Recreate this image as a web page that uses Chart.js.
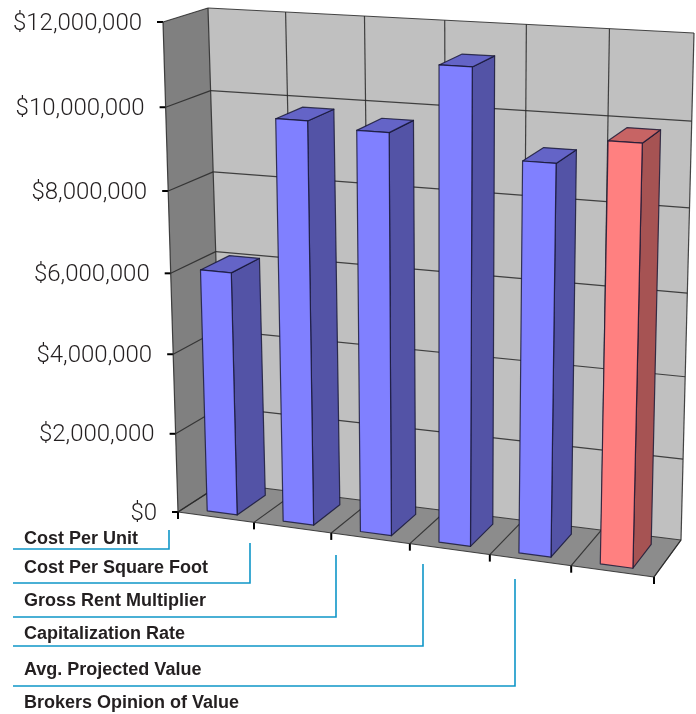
<!DOCTYPE html>
<html><head><meta charset="utf-8">
<style>html,body{margin:0;padding:0;background:#fff}canvas{display:block}</style>
<script src="https://cdn.jsdelivr.net/npm/chart.js@4"></script>
</head><body><canvas id="c" width="696" height="714"></canvas>
<script>
// ---- data ----
const categories = ['Cost Per Unit','Cost Per Square Foot','Gross Rent Multiplier','Capitalization Rate','Avg. Projected Value','Brokers Opinion of Value'];
const values = [6060000, 9840000, 9700000, 11320000, 9270000, 9860000];
const barColors = ['#8080FF','#8080FF','#8080FF','#8080FF','#8080FF','#FF8080'];
const yTickValues = [0, 2000000, 4000000, 6000000, 8000000, 10000000, 12000000];

// ---- frame geometry of the 3-D box ----
const FRAME = {
  fb:[[178,512],[654,577]], bb:[[223,483],[681,540]],
  ft:[[163,22],[667,50]],   bt:[[208,8],[694,33]]
};
const K = 1.053, BAR_W0 = 0.145, BAR_W1 = 0.80;
const persp = t => t/(t+(1-t)*K);
const unpersp = v => v*K/(1-v+v*K);
const lerp = (a,b,t)=>[a[0]+(b[0]-a[0])*t, a[1]+(b[1]-a[1])*t];
function corner3(u,v,w){
  const f = lerp(lerp(FRAME.fb[0],FRAME.fb[1],u), lerp(FRAME.ft[0],FRAME.ft[1],u), v);
  const b = lerp(lerp(FRAME.bb[0],FRAME.bb[1],u), lerp(FRAME.bt[0],FRAME.bt[1],u), v);
  return lerp(f,b,w);
}
// project a point of the chart's front plane (scale pixels) with a depth 0..1
function project(chart,px,py,w){
  const a = chart.chartArea;
  return corner3((px-a.left)/(a.right-a.left),(a.bottom-py)/(a.bottom-a.top),w);
}
function poly(ctx,pts,fill,stroke,lw){
  ctx.beginPath();
  pts.forEach((p,i)=>i?ctx.lineTo(p[0],p[1]):ctx.moveTo(p[0],p[1]));
  ctx.closePath();
  if(fill){ctx.fillStyle=fill;ctx.fill();}
  if(stroke){ctx.strokeStyle=stroke;ctx.lineWidth=lw||1;ctx.stroke();}
}
function seg(ctx,a,b,stroke,lw){
  ctx.beginPath();ctx.moveTo(a[0],a[1]);ctx.lineTo(b[0],b[1]);
  ctx.strokeStyle=stroke;ctx.lineWidth=lw||1;ctx.stroke();
}
function shade(hex,f){
  const n=parseInt(hex.slice(1),16);
  const c=[(n>>16)&255,(n>>8)&255,n&255].map(x=>Math.round(x*f));
  return `rgb(${c[0]},${c[1]},${c[2]})`;
}

// ---- scales following the perspective of the box ----
class FrameLinear extends Chart.LinearScale{
  static id='frameLinear'; static defaults=Chart.LinearScale.defaults;
  getPixelForDecimal(d){return super.getPixelForDecimal(persp(d));}
  getDecimalForPixel(p){return unpersp(super.getDecimalForPixel(p));}
  _computeLabelItems(area){
    const items=super._computeLabelItems(area);
    items.forEach(it=>{
      const t=it.options.translation, ca=this.chart.chartArea;
      const edge=corner3(0,(ca.bottom-t[1])/(ca.bottom-ca.top),0);
      t[0]=edge[0]-21; t[1]+=1.5; it.options.textAlign='right';
    });
    return items;
  }
}
const LABEL_Y=[539,568.5,601.5,634,670.5,703];
class FrameCategory extends Chart.CategoryScale{
  static id='frameCategory'; static defaults=Chart.CategoryScale.defaults;
  getPixelForDecimal(d){return super.getPixelForDecimal(persp(d));}
  getDecimalForPixel(p){return unpersp(super.getDecimalForPixel(p));}
  _computeLabelItems(area){
    const items=super._computeLabelItems(area);
    items.forEach((it,i)=>{
      it.options.translation=[24,LABEL_Y[i]];
      it.options.textAlign='left'; it.options.textBaseline='middle'; it.options.rotation=0;
      it.textOffset=0;
    });
    return items;
  }
}
Chart.register(FrameLinear,FrameCategory);

// ---- bars are drawn as 3-D prisms from the element's own scale pixels ----
const OUTLINE='rgba(20,20,50,.8)';
Chart.BarElement.prototype.draw=function(ctx){
  const chart=Chart.getChart(ctx.canvas), xs=chart.scales.x;
  const p=this.getProps(['x','y','base','width']);
  const t=xs.getDecimalForPixel(p.x), half=p.width/xs.width/2;
  const xl=xs.getPixelForDecimal(t-half), xr=xs.getPixelForDecimal(t+half);
  const P=(x,y,w)=>project(chart,x,y,w);
  const c=this.options.backgroundColor;
  ctx.save(); ctx.lineJoin='round';
  poly(ctx,[P(xr,p.base,BAR_W0),P(xr,p.base,BAR_W1),P(xr,p.y,BAR_W1),P(xr,p.y,BAR_W0)],shade(c,.65),OUTLINE,1.2);
  poly(ctx,[P(xl,p.y,BAR_W0),P(xr,p.y,BAR_W0),P(xr,p.y,BAR_W1),P(xl,p.y,BAR_W1)],shade(c,.78),OUTLINE,1.2);
  poly(ctx,[P(xl,p.base,BAR_W0),P(xr,p.base,BAR_W0),P(xr,p.y,BAR_W0),P(xl,p.y,BAR_W0)],c,OUTLINE,1.2);
  ctx.restore();
};

// ---- walls, floor, gridlines, tick marks and leader lines ----
const GRID='rgba(40,40,40,.85)';
const LEADERS=[[549,169,530],[583,250,543],[617,336,555],[646,423,564],[686,515,579]];
const framePlugin={
  id:'frame',
  beforeDatasetsDraw(chart){
    const ctx=chart.ctx, xs=chart.scales.x, ys=chart.scales.y;
    ctx.save();
    poly(ctx,[corner3(0,0,1),corner3(1,0,1),corner3(1,1,1),corner3(0,1,1)],'#C0C0C0');
    poly(ctx,[corner3(0,0,0),corner3(0,0,1),corner3(0,1,1),corner3(0,1,0)],'#808080');
    poly(ctx,[corner3(0,0,0),corner3(1,0,0),corner3(1,0,1),corner3(0,0,1)],'#8C8C8C');
    ys.ticks.forEach(tk=>{
      const py=ys.getPixelForValue(tk.value), a=chart.chartArea;
      const l0=project(chart,a.left,py,0), l1=project(chart,a.left,py,1), r1=project(chart,a.right,py,1);
      seg(ctx,l0,l1,GRID,1.2); seg(ctx,l1,r1,GRID,1.2);
      seg(ctx,[l0[0]-6,l0[1]],l0,'#000',2);
    });
    categories.concat(['']).forEach((_,i)=>{
      const px=xs.getPixelForDecimal(i/categories.length), a=chart.chartArea;
      const f=project(chart,px,a.bottom,0), b=project(chart,px,a.bottom,1), t=project(chart,px,a.top,1);
      seg(ctx,f,b,GRID,1.2); seg(ctx,b,t,GRID,1.2);
      seg(ctx,f,[f[0],f[1]+7],'#000',2);
    });
    seg(ctx,corner3(0,0,0),corner3(0,1,0),GRID,1.2);
    seg(ctx,corner3(0,0,0),corner3(1,0,0),GRID,1.2);
    seg(ctx,corner3(1,0,0),corner3(1,0,1),GRID,1.2);
    ctx.restore();
  },
  afterDraw(chart){
    const ctx=chart.ctx;
    ctx.save();
    ctx.strokeStyle='#0F96C8'; ctx.lineWidth=1.6;
    LEADERS.forEach(l=>{
      ctx.beginPath();ctx.moveTo(13,l[0]);ctx.lineTo(l[1],l[0]);ctx.lineTo(l[1],l[2]);ctx.stroke();
    });
    ctx.restore();
  }
};

new Chart(document.getElementById('c'),{
  type:'bar',
  data:{labels:categories,datasets:[{data:values,backgroundColor:barColors,barPercentage:.41,categoryPercentage:1,clip:false}]},
  plugins:[framePlugin],
  options:{
    responsive:false,animation:false,devicePixelRatio:1,
    layout:{padding:{top:22,right:42,bottom:0,left:0}},
    plugins:{legend:{display:false},tooltip:{enabled:false},title:{display:false}},
    scales:{
      x:{type:'frameCategory',offset:true,
        grid:{display:false},border:{display:false},
        afterFit:s=>{s.height=202;},
        ticks:{autoSkip:false,maxRotation:0,minRotation:0,color:'#231F20',
          font:{family:'Liberation Sans',size:18,weight:'bold'}}},
      y:{type:'frameLinear',min:0,max:12000000,
        grid:{display:false},border:{display:false},
        afterFit:s=>{s.width=178;},
        afterBuildTicks:s=>{s.ticks=yTickValues.map(v=>({value:v}));},
        ticks:{autoSkip:false,color:'#231F20',
          font:{family:'Roboto',size:24,weight:'300'},
          callback:v=>'$'+Number(v).toLocaleString('en-US')}}
    }
  }
});
</script></body></html>
